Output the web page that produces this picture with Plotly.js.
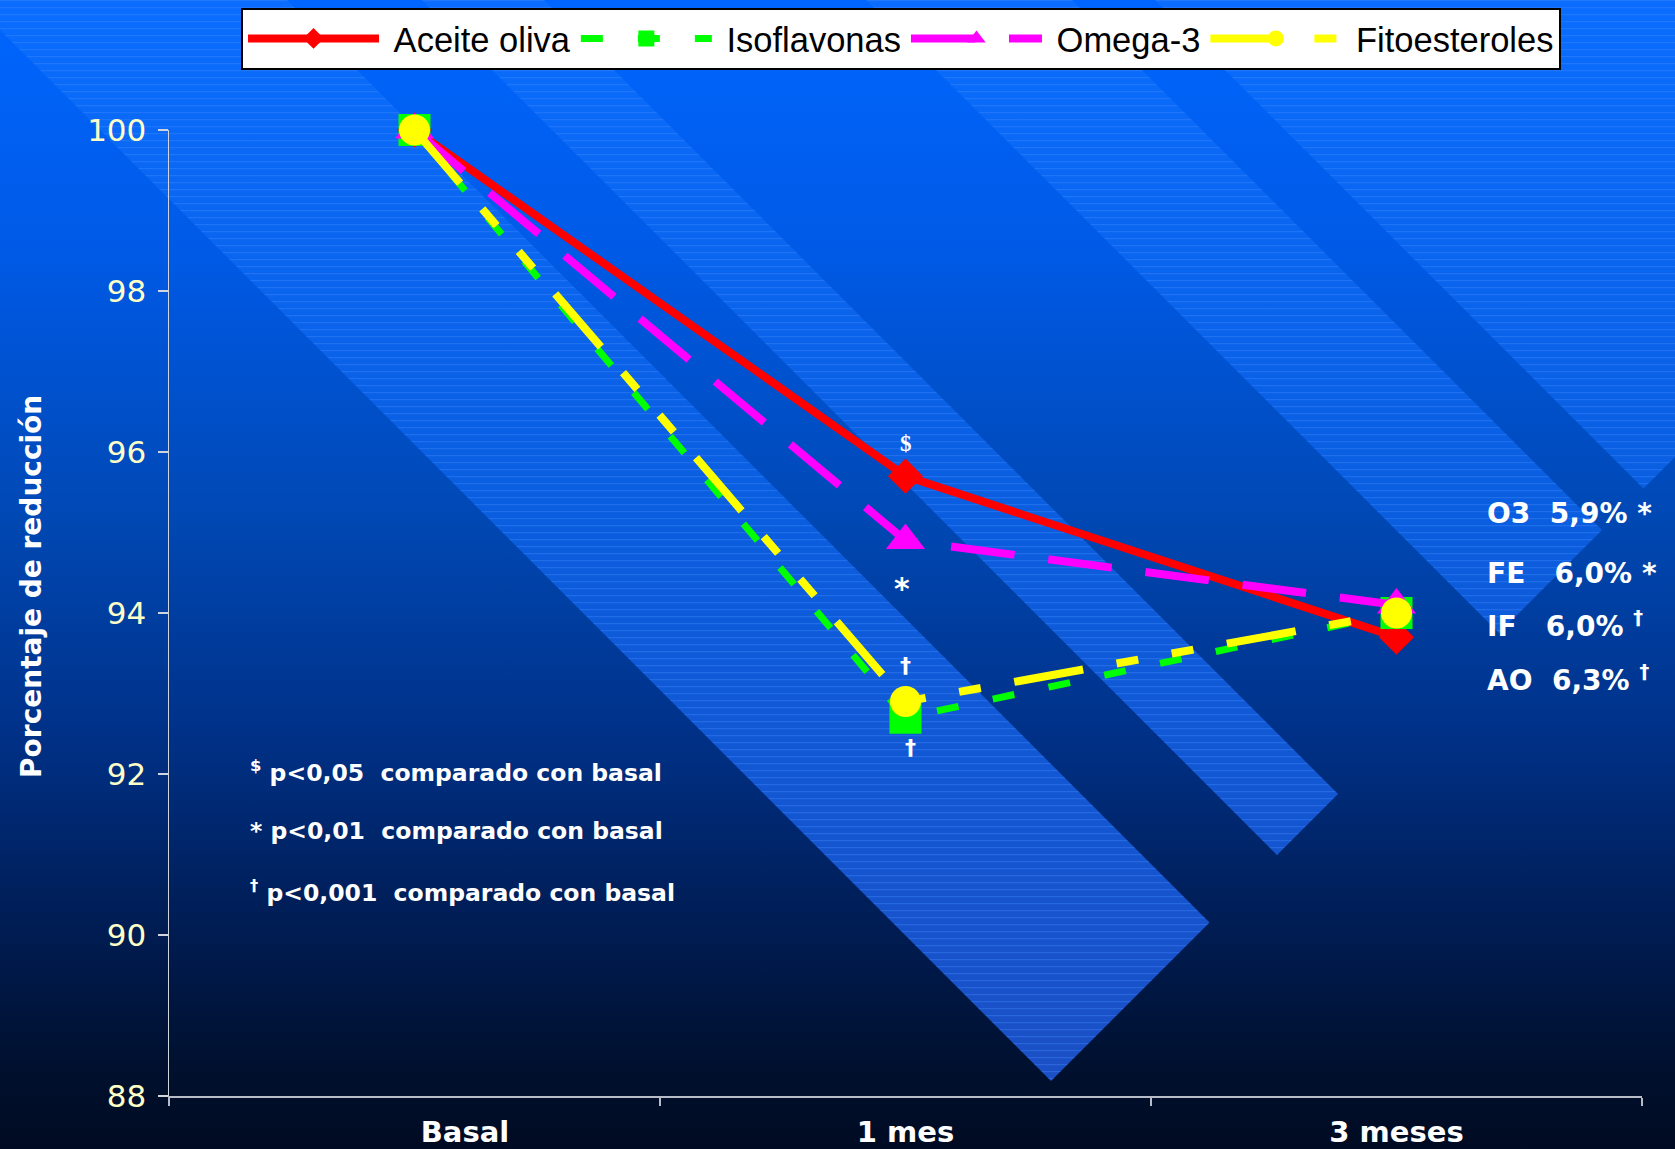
<!DOCTYPE html>
<html>
<head>
<meta charset="utf-8">
<script src="https://cdn.plot.ly/plotly-3.0.1.min.js"></script>
<style>
  html, body { margin: 0; padding: 0; width: 1675px; height: 1149px; overflow: hidden; }
  body {
    background: linear-gradient(to bottom, #0066ff 0%, #005ae6 22%, #0048b4 45%, #00328a 63%, #001d55 80%, #00102e 93%, #000b22 100%);
  }
  #decor { position: absolute; left: 0; top: 0; }
  #chart { position: absolute; left: 0; top: 0; width: 1675px; height: 1149px; }
</style>
</head>
<body>
<!-- diagonal light bands behind the plot -->
<svg id="decor" width="1675" height="1149" xmlns="http://www.w3.org/2000/svg">
  <defs>
    <linearGradient id="bandFill" gradientUnits="userSpaceOnUse" x1="0" y1="0" x2="0" y2="1100">
      <stop offset="0" stop-color="#0a6dff"/>
      <stop offset="0.45" stop-color="#0a5ee0"/>
      <stop offset="1" stop-color="#1c4fc4"/>
    </linearGradient>
    <pattern id="scan" patternUnits="userSpaceOnUse" width="8" height="7">
      <rect x="0" y="0" width="8" height="1.2" fill="rgba(70,140,255,0.35)"/>
    </pattern>
  </defs>
  <g>
    <polygon points="-30,0 1051,1081 1209.5,922.5 287,0" fill="url(#bandFill)"/>
    <polygon points="422,0 1277,855 1338,794 544,0" fill="url(#bandFill)"/>
    <polygon points="866,0 1499,633 1602,530 1072,0" fill="url(#bandFill)"/>
    <polygon points="1155,0 1643.5,488.5 1675,457 1675,0" fill="url(#bandFill)"/>
  </g>
  <g>
    <polygon points="-30,0 1051,1081 1209.5,922.5 287,0" fill="url(#scan)"/>
    <polygon points="422,0 1277,855 1338,794 544,0" fill="url(#scan)"/>
    <polygon points="866,0 1499,633 1602,530 1072,0" fill="url(#scan)"/>
    <polygon points="1155,0 1643.5,488.5 1675,457 1675,0" fill="url(#scan)"/>
  </g>
</svg>
<div id="chart"></div>
<script>
// Measurement points
const categories = ['Basal', '1 mes', '3 meses'];
const tickLabels = ['\u00a0\u00a0\u00a0\u00a0\u00a0\u00a0\u00a0\u00a0\u00a0\u00a0Basal', '1 mes', '3 meses'];

// Percentage of baseline value for each supplement group
const aceiteOliva   = [100, 95.7, 93.7];
const isoflavonas   = [100, 92.7, 94.0];
const omega3        = [100, 94.9, 94.1];
const fitoesteroles = [100, 92.9, 94.0];

const seriesNames = ['Aceite oliva', 'Isoflavonas', 'Omega-3', 'Fitoesteroles'];

const yTicks = [88, 90, 92, 94, 96, 98, 100];

// Significance notes
const footnotes = [
  '<sup>$</sup> p<0,05\u00a0 comparado con basal',
  '* p<0,01\u00a0 comparado con basal',
  '<sup>\u2020</sup> p<0,001\u00a0 comparado con basal'
];

const BOLD = 'DejaVu Sans';
const fmtPct = v => (100 - v).toFixed(1).replace('.', ',') + '%';
// a little breathing room between legend symbol and label
const legendName = n => '\u00a0' + n;

const traces = [
  {
    name: legendName(seriesNames[0]), x: categories, y: aceiteOliva,
    type: 'scatter', mode: 'lines+markers', cliponaxis: false,
    line: { color: '#ff0000', width: 8 },
    marker: { symbol: 'diamond', size: 27, color: '#ff0000', line: { width: 0 } }
  },
  {
    name: legendName(seriesNames[1]), x: categories, y: isoflavonas,
    type: 'scatter', mode: 'lines+markers', cliponaxis: false,
    line: { color: '#00ff00', width: 7, dash: '22px,35px' },
    marker: { symbol: 'square', size: 32, color: '#00ff00', line: { width: 0 } }
  },
  {
    name: legendName(seriesNames[2]), x: categories, y: omega3,
    type: 'scatter', mode: 'lines+markers', cliponaxis: false,
    line: { color: '#ff00ff', width: 8, dash: '64px,34px' },
    marker: { symbol: 'triangle-up', size: 34, color: '#ff00ff', line: { width: 0 } }
  },
  {
    name: legendName(seriesNames[3]), x: categories, y: fitoesteroles,
    type: 'scatter', mode: 'lines+markers', cliponaxis: false,
    line: { color: '#ffff00', width: 8, dash: '70px,34px,22px,34px,22px,34px' },
    marker: { symbol: 'circle', size: 31, color: '#ffff00', line: { width: 0 } }
  }
];

const annotations = [];

// y-axis title
annotations.push({
  text: 'Porcentaje de reducción', xref: 'paper', yref: 'paper',
  x: -0.093, y: 0.527, textangle: -90, showarrow: false,
  xanchor: 'center', yanchor: 'middle',
  font: { family: BOLD, size: 28, color: '#ffffff', weight: 'bold' }
});

// significance symbols next to the 1-month points
annotations.push({
  text: '$', x: categories[1], y: aceiteOliva[1], xref: 'x', yref: 'y',
  showarrow: false, yshift: 33,
  font: { family: 'Liberation Serif', size: 23, color: '#ffffff', weight: 'bold' }
});
annotations.push({
  text: '*', x: categories[1], y: omega3[1], xref: 'x', yref: 'y',
  showarrow: false, yshift: -48, xshift: -4,
  font: { family: BOLD, size: 30, color: '#ffffff', weight: 'bold' }
});
annotations.push({
  text: '\u2020', x: categories[1], y: fitoesteroles[1], xref: 'x', yref: 'y',
  showarrow: false, yshift: 36,
  font: { family: BOLD, size: 22, color: '#ffffff', weight: 'bold' }
});
annotations.push({
  text: '\u2020', x: categories[1], y: isoflavonas[1], xref: 'x', yref: 'y',
  showarrow: false, yshift: -30, xshift: 5,
  font: { family: BOLD, size: 22, color: '#ffffff', weight: 'bold' }
});

// footnotes
const footY = [0.3364, 0.2743, 0.2112];
footnotes.forEach((t, i) => {
  annotations.push({
    text: t, xref: 'paper', yref: 'paper', x: 0.0536, y: footY[i],
    xanchor: 'left', yanchor: 'middle', showarrow: false,
    font: { family: BOLD, size: 23.5, color: '#ffffff', weight: 'bold' }
  });
});

// overall reduction at 3 months
const finals = [
  { code: 'O3', v: omega3[2], mark: '\u00a0*', gap: '\u00a0\u00a0' },
  { code: 'FE', v: fitoesteroles[2], mark: '\u00a0*', gap: '\u00a0\u00a0\u00a0' },
  { code: 'IF', v: isoflavonas[2], mark: '\u00a0<sup>\u2020</sup>', gap: '\u00a0\u00a0\u00a0' },
  { code: 'AO', v: aceiteOliva[2], mark: '\u00a0<sup>\u2020</sup>', gap: '\u00a0\u00a0' }
];
const finalY = [0.6025, 0.5404, 0.4886, 0.4317];
finals.forEach((f, i) => {
  annotations.push({
    text: f.code + f.gap + fmtPct(f.v) + f.mark, xref: 'paper', yref: 'paper',
    x: 0.8934, y: finalY[i], xanchor: 'left', yanchor: 'middle', showarrow: false,
    font: { family: BOLD, size: 28, color: '#ffffff', weight: 'bold' }
  });
});

const layout = {
  width: 1675, height: 1149,
  margin: { l: 169, r: 33, t: 130, b: 53, autoexpand: false },
  paper_bgcolor: 'rgba(0,0,0,0)',
  plot_bgcolor: 'rgba(0,0,0,0)',
  showlegend: true,
  legend: {
    orientation: 'h', x: 0.0489, y: 1.1268, xanchor: 'left', yanchor: 'top',
    bgcolor: '#ffffff', bordercolor: '#000000', borderwidth: 2,
    itemwidth: 131, traceorder: 'normal',
    font: { family: 'Liberation Sans', size: 34.5, color: '#000000' }
  },
  xaxis: {
    type: 'category', range: [-0.5, 2.5],
    tickmode: 'array', tickvals: categories, ticktext: tickLabels,
    tickson: 'boundaries', ticks: 'outside', ticklen: 8, tickcolor: '#b8bcc8', tickwidth: 1.5,
    showline: true, linecolor: '#b8bcc8', linewidth: 2,
    showgrid: false, zeroline: false, ticklabelstandoff: 9,
    tickfont: { family: BOLD, size: 29, color: '#ffffff', weight: 'bold' }
  },
  yaxis: {
    range: [88, 100], tickmode: 'array', tickvals: yTicks,
    ticks: 'outside', ticklen: 10, tickcolor: '#d0d4dc', tickwidth: 1.5,
    showline: true, linecolor: '#d0d4dc', linewidth: 1.5,
    showgrid: false, zeroline: false, ticklabelstandoff: 5,
    tickfont: { family: 'DejaVu Sans', size: 31, color: '#ffffc8' }
  },
  annotations: annotations
};

Plotly.newPlot('chart', traces, layout, { displayModeBar: false, staticPlot: true });
</script>
</body>
</html>
